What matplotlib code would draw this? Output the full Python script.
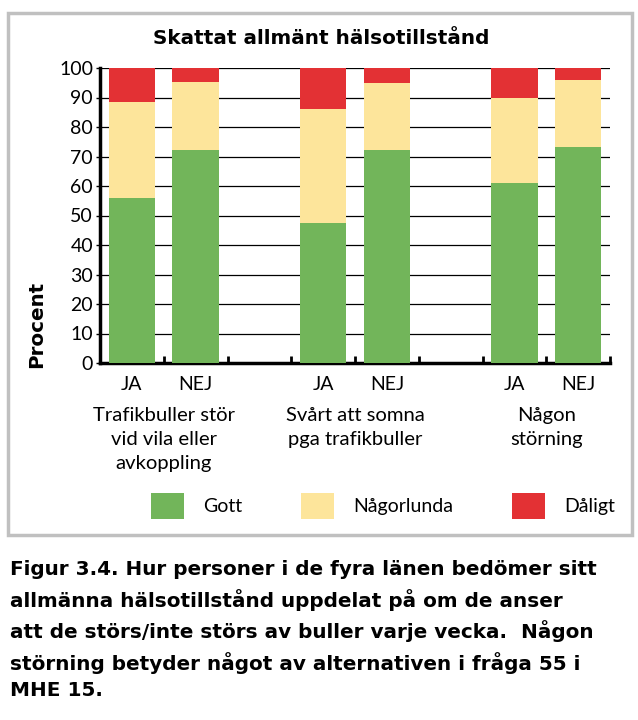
import matplotlib.pyplot as plt
from matplotlib.patches import Rectangle, Patch

# data
bar_labels = ["JA", "NEJ", "JA", "NEJ", "JA", "NEJ"]
bar_pos = [0, 1, 3, 4, 6, 7]
groups = ["Trafikbuller stör\nvid vila eller\navkoppling",
          "Svårt att somna\npga trafikbuller",
          "Någon\nstörning"]
group_pos = [0.5, 3.5, 6.5]
gott = [56, 72.3, 47.4, 72.3, 61, 73.3]
nagorlunda = [32.6, 22.8, 38.6, 22.7, 28.9, 22.5]
daligt = [11.4, 4.9, 14.0, 5.0, 10.1, 4.2]
series = ["Gott", "Någorlunda", "Dåligt"]
colors = ["#72b55a", "#fde59b", "#e33134"]

caption = ("Figur 3.4. Hur personer i de fyra länen bedömer sitt\n"
           "allmänna hälsotillstånd uppdelat på om de anser\n"
           "att de störs/inte störs av buller varje vecka.  Någon\n"
           "störning betyder något av alternativen i fråga 55 i\n"
           "MHE 15.")

plt.rcParams['font.family'] = ['Lato', 'DejaVu Sans']

fig = plt.figure(figsize=(6.38, 7.2), dpi=100)
ax = fig.add_axes([100/638, 1-363/720, 510/638, 295/720])

w = 0.73
ax.bar(bar_pos, gott, w, color=colors[0], zorder=3)
bot = gott
ax.bar(bar_pos, nagorlunda, w, bottom=bot, color=colors[1], zorder=3)
bot2 = [a + b for a, b in zip(gott, nagorlunda)]
ax.bar(bar_pos, daligt, w, bottom=bot2, color=colors[2], zorder=3)

ax.set_xlim(-0.5, 7.5)
ax.set_ylim(0, 100)
ax.set_yticks(range(0, 101, 10))
ax.yaxis.grid(True, color='black', linewidth=0.9, zorder=1)
ax.set_axisbelow(True)
ax.tick_params(axis='y', labelsize=14, length=3, width=1, pad=2)

ax.set_xticks(bar_pos)
ax.set_xticklabels(bar_labels)
ax.tick_params(axis='x', which='major', length=0, labelsize=14, pad=9)
ax.set_xticks([i - 0.5 for i in range(9)], minor=True)
ax.tick_params(axis='x', which='minor', direction='in', length=5, width=2)

for s in ['top', 'right']:
    ax.spines[s].set_visible(False)
ax.spines['left'].set_linewidth(2.5)
ax.spines['bottom'].set_linewidth(2.5)

ax.set_ylabel("Procent", fontsize=14.3, fontweight='bold', family='DejaVu Sans')
ax.yaxis.set_label_coords(-0.106, 0.13)

for x, g in zip(group_pos, groups):
    ax.text(x, -0.148, g, transform=ax.get_xaxis_transform(), ha='center',
            va='top', fontsize=14.6, linespacing=1.5)

fig.text(0.503, 0.946, "Skattat allmänt hälsotillstånd", ha='center',
         va='center', fontsize=14.4, fontweight='bold', family='DejaVu Sans')

handles = [Patch(facecolor=c, edgecolor='none') for c in colors]
fig.legend(handles, series, ncol=3, loc='center left',
           bbox_to_anchor=(151/638, 1-506/720), frameon=False, fontsize=14,
           handlelength=1.7, handleheight=1.7, handletextpad=1.0,
           columnspacing=3.0, borderpad=0, borderaxespad=0)

fig.patches.append(Rectangle((8/638, 1-535/720), 624/638, 522/720,
                             transform=fig.transFigure, fill=False,
                             edgecolor='#c0c0c0', linewidth=2.5))

fig.text(10/638, 1-560/720, caption, ha='left', va='top', fontsize=14.4,
         fontweight='bold', family='DejaVu Sans', linespacing=1.53)

fig.savefig("out.png", dpi=100)
